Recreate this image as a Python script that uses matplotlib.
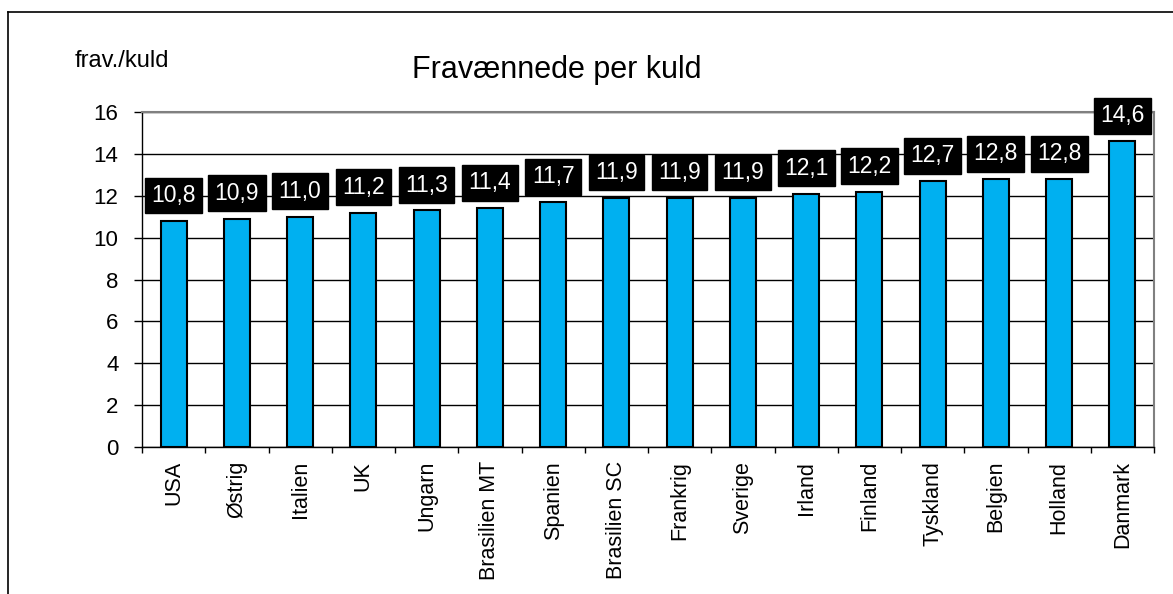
import matplotlib.pyplot as plt
from matplotlib.lines import Line2D

plt.rcParams['font.family'] = ['Liberation Sans', 'DejaVu Sans']

# data
lande = ['USA', 'Østrig', 'Italien', 'UK', 'Ungarn', 'Brasilien MT', 'Spanien',
         'Brasilien SC', 'Frankrig', 'Sverige', 'Irland', 'Finland', 'Tyskland',
         'Belgien', 'Holland', 'Danmark']
fravaennede = [10.8, 10.9, 11.0, 11.2, 11.3, 11.4, 11.7, 11.9, 11.9, 11.9,
               12.1, 12.2, 12.7, 12.8, 12.8, 14.6]
yticks = [0, 2, 4, 6, 8, 10, 12, 14, 16]

W, H = 1173, 594
fig = plt.figure(figsize=(W / 100, H / 100), dpi=100)
ax = fig.add_axes([142 / W, 1 - 447 / H, (1154 - 142) / W, (447 - 112) / H])

x = list(range(len(lande)))
ax.bar(x, fravaennede, width=0.41, color='#00B0F0', edgecolor='black',
       linewidth=1.5, zorder=3)

for xi, v in zip(x, fravaennede):
    ax.annotate(f'{v:.1f}'.replace('.', ','), (xi, v), xytext=(0, 10),
                textcoords='offset points', ha='center', va='bottom',
                fontsize=16.5, color='white', zorder=5,
                bbox=dict(boxstyle='square,pad=0.28', fc='black', ec='black'))

ax.set_xlim(-0.5, len(lande) - 0.5)
ax.set_ylim(0, 16)
ax.set_yticks(yticks)
ax.set_yticklabels([str(t) for t in yticks], fontsize=16)
ax.tick_params(axis='y', direction='out', length=6, width=1, pad=11)
ax.yaxis.grid(True, color='black', linewidth=1, zorder=0)
ax.set_axisbelow(True)

ax.set_xticks(x)
ax.set_xticklabels(lande, rotation=90, fontsize=15.5, va='top')
ax.tick_params(axis='x', which='major', length=0, pad=10)
ax.set_xticks([i - 0.5 for i in range(len(lande) + 1)], minor=True)
ax.tick_params(axis='x', which='minor', direction='out', length=4, width=1)

for s in ['top', 'right']:
    ax.spines[s].set_color('#808080')
    ax.spines[s].set_linewidth(1.5)
for s in ['left', 'bottom']:
    ax.spines[s].set_color('black')
    ax.spines[s].set_linewidth(1)

fig.text(557 / W, 1 - 78 / H, 'Fravænnede per kuld', fontsize=22,
         ha='center', va='baseline')
fig.text(75 / W, 1 - 67 / H, 'frav./kuld', fontsize=17, ha='left', va='baseline')

# outer frame of the embedded chart
fig.add_artist(Line2D([7.5 / W, 7.5 / W], [0, 1 - 12 / H], color='black', lw=1.2))
fig.add_artist(Line2D([7.5 / W, 1], [1 - 12 / H, 1 - 12 / H], color='black', lw=1.2))

fig.savefig('out.png', dpi=100)
